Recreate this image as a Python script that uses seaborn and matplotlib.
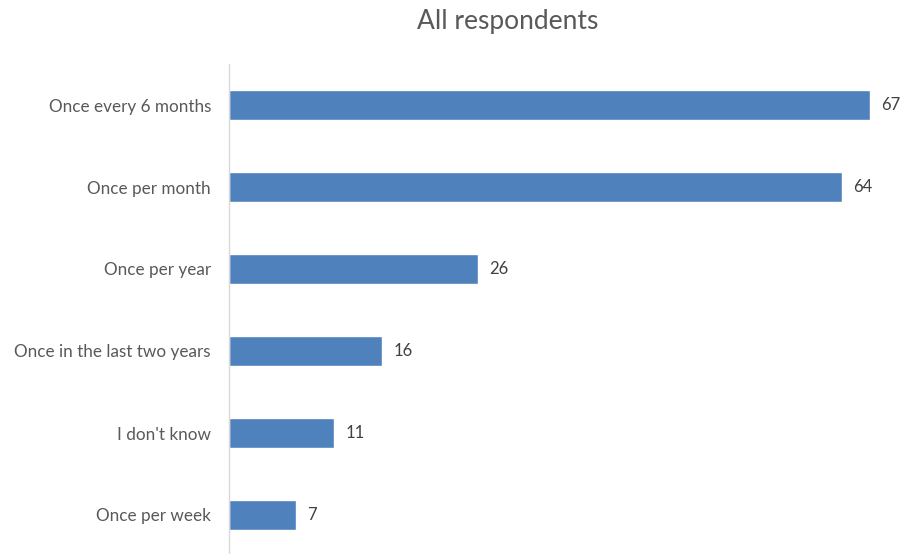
import matplotlib
matplotlib.use("Agg")
import matplotlib.pyplot as plt
import seaborn as sns
import pandas as pd

categories = ["Once every 6 months", "Once per month", "Once per year",
              "Once in the last two years", "I don't know", "Once per week"]
counts = [67, 64, 26, 16, 11, 7]
title = "All respondents"

sns.set_theme(style="white")
plt.rcParams["font.family"] = ["Lato", "DejaVu Sans"]

df = pd.DataFrame({"category": categories, "count": counts})

fig = plt.figure(figsize=(9.03, 5.54), dpi=100)
ax = fig.add_axes([229 / 903, -2 / 554, (903 - 229) / 903, 492 / 554])

sns.barplot(data=df, x="count", y="category", orient="h", color="#4F81BD",
            saturation=1, width=0.37, ax=ax)

ax.set_xlim(0, 70.4)
ax.set_ylim(5.5, -0.5)
ax.set_xlabel("")
ax.set_ylabel("")
ax.set_xticks([])
ax.tick_params(axis="y", length=0, pad=13, labelsize=12.3, labelcolor="#595959")

for side in ["top", "right", "bottom"]:
    ax.spines[side].set_visible(False)
ax.spines["left"].set_color("#D9D9D9")
ax.spines["left"].set_linewidth(1.0)

for container in ax.containers:
    ax.bar_label(container, labels=[str(v) for v in counts], padding=8,
                 fontsize=12, color="#404040")

fig.text(508 / 903, 1 - 22 / 554, title, ha="center", va="center",
         fontsize=19, color="#595959")

fig.savefig("out.png", dpi=100)
